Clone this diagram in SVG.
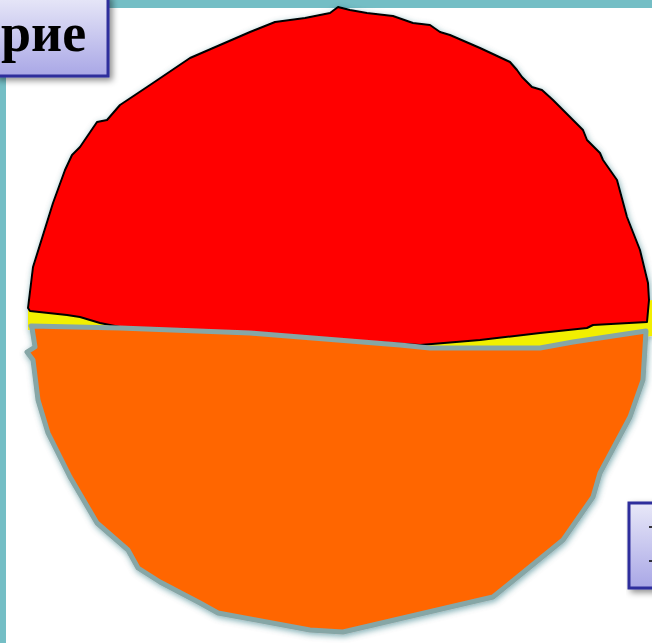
<svg xmlns="http://www.w3.org/2000/svg" width="652" height="643" viewBox="0 0 652 643">
<defs>
<linearGradient id="boxg" x1="0" y1="0" x2="0" y2="1">
<stop offset="0" stop-color="#e8e8f8"/>
<stop offset="1" stop-color="#a9a7e6"/>
</linearGradient>
<filter id="sh" x="-20%" y="-20%" width="140%" height="140%">
<feGaussianBlur in="SourceAlpha" stdDeviation="3"/>
<feOffset dx="3" dy="3" result="b"/>
<feFlood flood-color="#000" flood-opacity="0.45"/>
<feComposite in2="b" operator="in"/>
<feMerge><feMergeNode/><feMergeNode in="SourceGraphic"/></feMerge>
</filter>
<filter id="glow" x="-10%" y="-10%" width="120%" height="120%">
<feGaussianBlur in="SourceAlpha" stdDeviation="3"/>
<feOffset dx="1" dy="2" result="b"/>
<feFlood flood-color="#0d5c68" flood-opacity="0.5"/>
<feComposite in2="b" operator="in"/>
<feMerge><feMergeNode/><feMergeNode in="SourceGraphic"/></feMerge>
</filter>
<style>
.frame{fill:#74bec5}
.box{fill:url(#boxg);stroke:#2f2f9c;stroke-width:3;filter:url(#sh)}
.lbl{font-family:"Liberation Serif","Times New Roman",serif;font-weight:bold;fill:#000}
.red{fill:#ff0000;stroke:#000;stroke-width:2;stroke-linejoin:round}
.org{fill:#ff6600;stroke:#86a6a6;stroke-width:5;stroke-linejoin:round}
.yel{fill:#f2ef00}
</style>
</defs>
<rect width="652" height="643" fill="#ffffff"/>
<rect class="frame" x="0" y="0" width="652" height="8"/>
<rect class="frame" x="0" y="0" width="6" height="643"/>

<g id="circle" filter="url(#glow)">
<polygon id="yellow" class="yel" points="28,300 120,310 300,318 450,318 560,312 652,300 652,336 560,345 430,352 300,345 120,333 28,330"/>
<polygon id="red-half" class="red" points="28,308 33,267 53,203 65,170 72,155 80,147 97,122 107,120 120,105 150,85 190,58 220,45 250,32 275,22 305,18 330,13 338,7 350,10 367,13 393,16 413,23 430,25 440,32 450,35 480,48 510,62 517,70 522,77 532,87 542,90 553,100 583,130 587,140 600,153 603,160 617,180 627,217 640,250 648,283 649,300 647,322 593,325 587,328 540,333 480,340 420,345 340,340 300,337 200,333 120,327 100,323 80,317 67,315 30,311"/>
<polygon id="orange-half" class="org" points="31,326 120,328 250,333 400,345 430,348 540,348 573,342 646,331 643,380 630,417 600,473 593,497 563,540 493,597 480,600 450,607 373,625 343,632 310,630 218,613 200,603 160,582 138,568 128,550 97,523 70,477 48,433 38,400 33,360 27,352 35,347 32,328"/>
</g>

<g id="box-title">
<rect class="box" x="-4" y="-4" width="112" height="80"/>
<text class="lbl" x="1" y="51" font-size="54">рие</text>
</g>

<g id="box-right">
<rect class="box" x="629" y="503" width="30" height="85"/>
<line x1="649" y1="527" x2="652" y2="527" stroke="#000" stroke-width="1.5"/>
<line x1="649" y1="561" x2="652" y2="561" stroke="#000" stroke-width="1.5"/>
</g>
</svg>
